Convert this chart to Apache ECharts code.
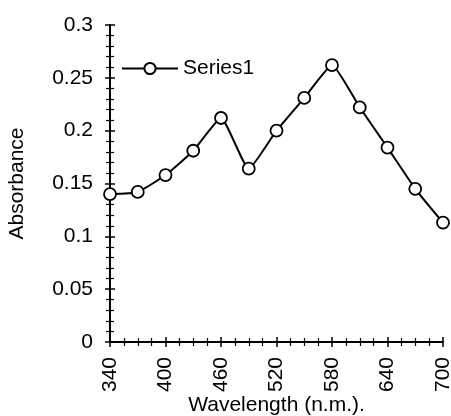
<!DOCTYPE html>
<html lang="en">
<head>
    <meta charset="UTF-8">
    <title>Absorbance</title>
    <script src="https://cdn.jsdelivr.net/npm/echarts@6/dist/echarts.min.js"></script>
    <style>
        body { margin: 0; background: #fff; }
        #main { width: 451px; height: 416px; }
    </style>
</head>
<body>
<div id="main"></div>
<script>
    // wavelength (nm) and absorbance
    var wavelengths = [340, 370, 400, 430, 460, 490, 520, 550, 580, 610, 640, 670, 700];
    var absorbance = [0.140, 0.142, 0.158, 0.181, 0.212, 0.164, 0.200, 0.231, 0.262, 0.222, 0.184, 0.145, 0.113];
    var seriesName = 'Series1';

    var font = 'Liberation Sans, Arial, sans-serif';
    var chart = echarts.init(document.getElementById('main'));

    var axisLine = { show: true, lineStyle: { color: '#000', width: 2 } };

    chart.setOption({
        animation: false,
        grid: { left: 110, top: 25, right: 8, bottom: 74, containLabel: false, outerBoundsMode: 'none' },
        legend: {
            left: 116, top: 53,
            itemWidth: 56, itemHeight: 14,
            itemGap: 6,
            textStyle: { fontFamily: font, fontSize: 21, color: '#000' },
            data: [seriesName]
        },
        xAxis: [{
            type: 'value', min: 340, max: 700, interval: 60,
            name: 'Wavelength (n.m.).', nameLocation: 'middle', nameGap: 53,
            nameMoveOverlap: false,
            nameTextStyle: { fontFamily: font, fontSize: 21, color: '#000' },
            axisLine: axisLine,
            axisTick: { show: true, length: 5, lineStyle: { color: '#000', width: 1.5 } },
            minorTick: { show: true, splitNumber: 4, length: 4, lineStyle: { color: '#000', width: 1.2 } },
            axisLabel: { rotate: 90, margin: 15, fontFamily: font, fontSize: 21, color: '#000' },
            splitLine: { show: false }
        }, {
            type: 'value', min: 340, max: 700, interval: 60, position: 'bottom',
            axisLine: { show: false },
            axisTick: { show: true, inside: true, length: 5, lineStyle: { color: '#000', width: 1.5 } },
            minorTick: { show: true, splitNumber: 4, length: 4, lineStyle: { color: '#000', width: 1.2 } },
            axisLabel: { show: false },
            splitLine: { show: false }
        }],
        yAxis: [{
            type: 'value', min: 0, max: 0.3, interval: 0.05,
            name: 'Absorbance', nameLocation: 'middle', nameGap: 82,
            nameMoveOverlap: false,
            nameTextStyle: { fontFamily: font, fontSize: 21, color: '#000' },
            axisLine: axisLine,
            axisTick: { show: true, length: 5, lineStyle: { color: '#000', width: 1.5 } },
            minorTick: { show: true, splitNumber: 5, length: 4, lineStyle: { color: '#000', width: 1.2 } },
            axisLabel: { margin: 17, fontFamily: font, fontSize: 21, color: '#000' },
            splitLine: { show: false }
        }, {
            type: 'value', min: 0, max: 0.3, interval: 0.05, position: 'left',
            axisLine: { show: false },
            axisTick: { show: true, inside: true, length: 5, lineStyle: { color: '#000', width: 1.5 } },
            minorTick: { show: true, splitNumber: 5, length: 4, lineStyle: { color: '#000', width: 1.2 } },
            axisLabel: { show: false },
            splitLine: { show: false }
        }],
        series: [{
            name: seriesName,
            type: 'line',
            smooth: 0.15,
            symbol: 'circle',
            symbolSize: 12,
            showAllSymbol: true,
            lineStyle: { color: '#000', width: 2 },
            itemStyle: { color: '#fff', borderColor: '#000', borderWidth: 1.8 },
            data: wavelengths.map(function (w, i) { return [w, absorbance[i]]; })
        }]
    });
</script>
</body>
</html>
